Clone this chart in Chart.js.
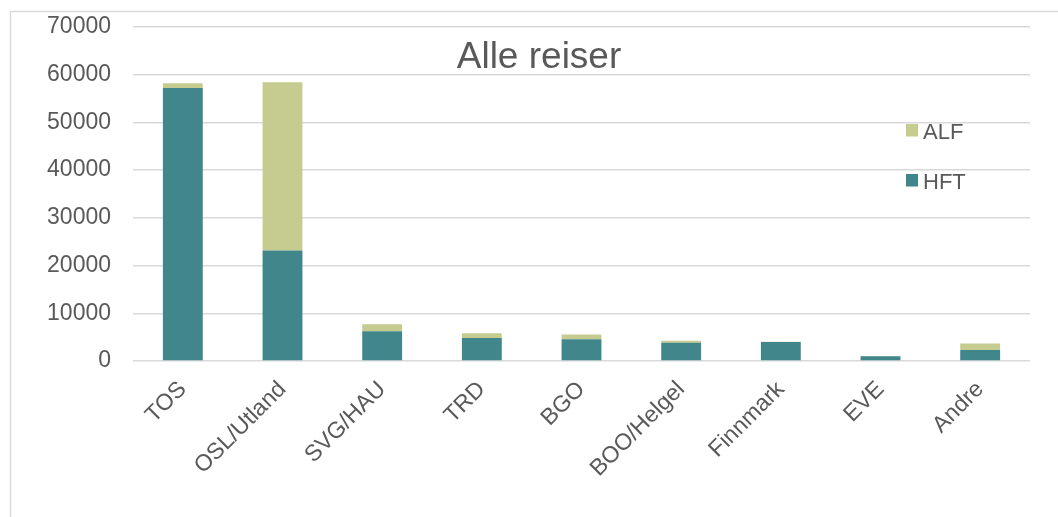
<!DOCTYPE html>
<html>
<head>
<meta charset="utf-8">
<script src="https://cdn.jsdelivr.net/npm/chart.js@4.4.1/dist/chart.umd.min.js"></script>
<style>
  html, body { margin: 0; padding: 0; background: #ffffff; }
  #wrap { width: 1058px; height: 517px; position: relative; }
</style>
</head>
<body>
<div id="wrap"><canvas id="c" width="1058" height="517"></canvas></div>
<script>
const categories = ["TOS", "OSL/Utland", "SVG/HAU", "TRD", "BGO", "BOO/Helgel", "Finnmark", "EVE", "Andre"];
const hftValues = [57230, 23150, 6230, 4820, 4550, 3850, 4000, 1000, 2300];
const alfValues = [990, 35280, 1460, 980, 980, 420, 60, 60, 1350];
const yTicks = [0, 10000, 20000, 30000, 40000, 50000, 60000, 70000];
const chartTitle = "Alle reiser";

const TEXT = "#595959";
const GRID = "#d9d9d9";
const FONT = "'Liberation Sans', Arial, sans-serif";

const framePlugin = {
  id: "frame",
  beforeDraw(chart) {
    const ctx = chart.ctx;
    ctx.save();
    ctx.fillStyle = "#ffffff";
    ctx.fillRect(0, 0, chart.width, chart.height);
    ctx.strokeStyle = GRID;
    ctx.lineWidth = 1.5;
    ctx.beginPath();
    ctx.moveTo(10.5, chart.height + 2);
    ctx.lineTo(10.5, 11.5);
    ctx.lineTo(chart.width + 2, 11.5);
    ctx.stroke();
    ctx.restore();
  }
};

const overlayPlugin = {
  id: "overlay",
  afterDraw(chart) {
    const ctx = chart.ctx;
    ctx.save();
    // title
    ctx.fillStyle = TEXT;
    ctx.font = "37px " + FONT;
    ctx.textAlign = "center";
    ctx.textBaseline = "alphabetic";
    ctx.fillText(chartTitle, 539, 68);
    // legend (reverse order: ALF on top)
    const ds = chart.data.datasets.slice().reverse();
    ctx.font = "22px " + FONT;
    ctx.textAlign = "left";
    ds.forEach((d, i) => {
      const y = 124 + i * 50;
      ctx.fillStyle = d.backgroundColor;
      ctx.fillRect(906, y, 12, 12.5);
      ctx.fillStyle = TEXT;
      ctx.fillText(d.label, 923, y + 14.5);
    });
    ctx.restore();
  }
};

new Chart(document.getElementById("c"), {
  type: "bar",
  data: {
    labels: categories,
    datasets: [
      { label: "HFT", data: hftValues, backgroundColor: "#40868a", barPercentage: 0.4, categoryPercentage: 1.0 },
      { label: "ALF", data: alfValues, backgroundColor: "#c6cc90", barPercentage: 0.4, categoryPercentage: 1.0 }
    ]
  },
  options: {
    responsive: false,
    animation: false,
    devicePixelRatio: 1,
    layout: { padding: { top: 27, right: 28, left: 0, bottom: 0 } },
    plugins: {
      legend: { display: false },
      title: { display: false },
      tooltip: { enabled: false }
    },
    scales: {
      x: {
        stacked: true,
        grid: { display: false },
        border: { display: false },
        ticks: {
          color: TEXT,
          font: { family: FONT, size: 23 },
          minRotation: 45,
          maxRotation: 45,
          autoSkip: false,
          padding: 7
        },
        afterFit(scale) { scale.height = 156; }
      },
      y: {
        stacked: true,
        min: 0,
        max: 70000,
        afterBuildTicks(scale) { scale.ticks = yTicks.map(v => ({ value: v })); },
        grid: { color: GRID, lineWidth: 1.5, drawTicks: true, tickLength: 22, tickColor: "rgba(0,0,0,0)" },
        border: { display: false },
        ticks: {
          color: TEXT,
          font: { family: FONT, size: 23 },
          padding: 0,
          callback: v => String(v)
        },
        afterFit(scale) { scale.width = 133; }
      }
    }
  },
  plugins: [framePlugin, overlayPlugin]
});
</script>
</body>
</html>
